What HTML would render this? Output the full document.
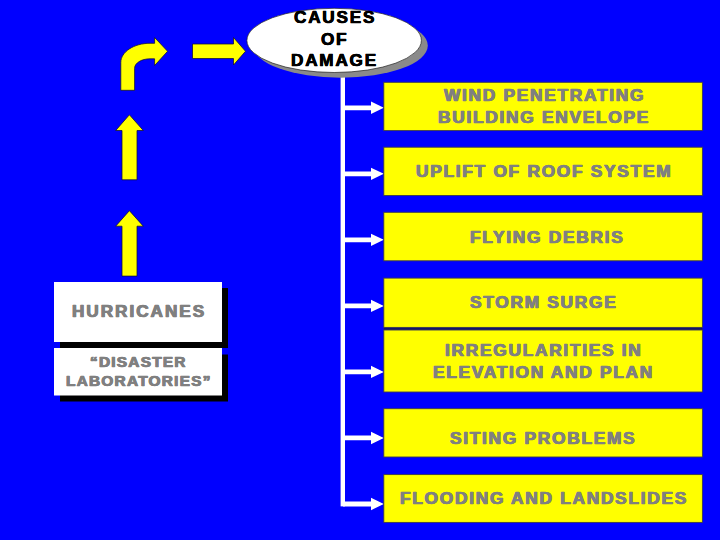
<!DOCTYPE html>
<html><head><meta charset="utf-8"><style>
html,body{margin:0;padding:0;width:720px;height:540px;overflow:hidden;background:#0000FF;}
.t{position:absolute;white-space:nowrap;font-family:"Liberation Sans",sans-serif;font-weight:bold;-webkit-text-stroke:0.5px currentColor;text-shadow:0.45px 0 0 currentColor,-0.45px 0 0 currentColor;}
</style></head><body>
<svg width="720" height="540" viewBox="0 0 720 540" style="position:absolute;left:0;top:0">
<path d="M192.5 44 H233.5 V37.5 L245.5 51.3 L233.5 65 V58.5 H192.5 Z" fill="#FFFF00" stroke="#101030" stroke-width="0.75"/>
<path d="M120.8 90.3 V62.5 C120.8 51.9 133.9 43.3 150 43.3 H154.6 V37.5 L167.6 51.3 L154.6 65.5 V58.8 H150 C141.5 58.8 134.6 63.05 134.6 68.3 V90.3 Z" fill="#FFFF00" stroke="#101030" stroke-width="0.75"/>
<path d="M129.4 114.8 L143.3 130.5 H137 V179.8 H122 V130.5 H115.7 Z" fill="#FFFF00" stroke="#101030" stroke-width="0.75"/>
<path d="M129.4 210.7 L143.3 226.2 H137 V276.1 H122 V226.2 H115.7 Z" fill="#FFFF00" stroke="#101030" stroke-width="0.75"/>
<rect x="340.6" y="60" width="4.4" height="446.38" fill="#FFFFFF"/>
<path d="M343 105.40 H371 V101.60 L383.8 107.80 L371 114.00 V110.20 H343 Z" fill="#FFFFFF"/>
<path d="M343 171.43 H371 V167.63 L383.8 173.83 L371 180.03 V176.23 H343 Z" fill="#FFFFFF"/>
<path d="M343 237.46 H371 V233.66 L383.8 239.86 L371 246.06 V242.26 H343 Z" fill="#FFFFFF"/>
<path d="M343 303.49 H371 V299.69 L383.8 305.89 L371 312.09 V308.29 H343 Z" fill="#FFFFFF"/>
<path d="M343 369.52 H371 V365.72 L383.8 371.92 L371 378.12 V374.32 H343 Z" fill="#FFFFFF"/>
<path d="M343 435.55 H371 V431.75 L383.8 437.95 L371 444.15 V440.35 H343 Z" fill="#FFFFFF"/>
<path d="M343 501.58 H371 V497.78 L383.8 503.98 L371 510.18 V506.38 H343 Z" fill="#FFFFFF"/>
<rect x="383.8" y="327.2" width="318.6" height="3" fill="#14146a"/>
<rect x="383.8" y="82.3" width="318.6" height="48.30" fill="#FFFF00" stroke="#3a3a50" stroke-width="0.9"/>
<rect x="383.8" y="147.2" width="318.6" height="48.30" fill="#FFFF00" stroke="#3a3a50" stroke-width="0.9"/>
<rect x="383.8" y="212.3" width="318.6" height="48.50" fill="#FFFF00" stroke="#3a3a50" stroke-width="0.9"/>
<rect x="383.8" y="278.1" width="318.6" height="49.30" fill="#FFFF00" stroke="#3a3a50" stroke-width="0.9"/>
<rect x="383.8" y="330.0" width="318.6" height="62.00" fill="#FFFF00" stroke="#3a3a50" stroke-width="0.9"/>
<rect x="383.8" y="408.7" width="318.6" height="48.30" fill="#FFFF00" stroke="#3a3a50" stroke-width="0.9"/>
<rect x="383.8" y="474.6" width="318.6" height="47.80" fill="#FFFF00" stroke="#3a3a50" stroke-width="0.9"/>
<ellipse cx="340.55" cy="45.6" rx="87.25" ry="32.1" fill="#8a8a8a"/>
<ellipse cx="334.15" cy="40.4" rx="87.25" ry="32.1" fill="#FFFFFF" stroke="#222" stroke-width="0.7"/>
<rect x="60" y="288" width="168" height="60" fill="#000"/>
<rect x="54" y="282" width="168" height="60" fill="#FFFFFF"/>
<rect x="60" y="354.5" width="168" height="47" fill="#000"/>
<rect x="54" y="348" width="168" height="47.5" fill="#FFFFFF"/>
</svg>
<div class="t" style="left:443.96px;top:86.17px;font-size:16.2px;line-height:19.44px;letter-spacing:1.6px;color:#808080;transform:scaleX(1.07);transform-origin:0 0;">WIND PENETRATING</div>
<div class="t" style="left:438.12px;top:107.67px;font-size:16.2px;line-height:19.44px;letter-spacing:1.6px;color:#808080;transform:scaleX(1.07);transform-origin:0 0;">BUILDING ENVELOPE</div>
<div class="t" style="left:415.64px;top:162.27px;font-size:16.2px;line-height:19.44px;letter-spacing:1.6px;color:#808080;transform:scaleX(1.07);transform-origin:0 0;">UPLIFT OF ROOF SYSTEM</div>
<div class="t" style="left:469.84px;top:227.87px;font-size:16.2px;line-height:19.44px;letter-spacing:1.6px;color:#808080;transform:scaleX(1.07);transform-origin:0 0;">FLYING DEBRIS</div>
<div class="t" style="left:470.13px;top:293.27px;font-size:16.2px;line-height:19.44px;letter-spacing:1.6px;color:#808080;transform:scaleX(1.07);transform-origin:0 0;">STORM SURGE</div>
<div class="t" style="left:444.86px;top:341.17px;font-size:16.2px;line-height:19.44px;letter-spacing:1.6px;color:#808080;transform:scaleX(1.07);transform-origin:0 0;">IRREGULARITIES IN</div>
<div class="t" style="left:433.18px;top:362.87px;font-size:16.2px;line-height:19.44px;letter-spacing:1.6px;color:#808080;transform:scaleX(1.07);transform-origin:0 0;">ELEVATION AND PLAN</div>
<div class="t" style="left:449.97px;top:429.27px;font-size:16.2px;line-height:19.44px;letter-spacing:1.6px;color:#808080;transform:scaleX(1.07);transform-origin:0 0;">SITING PROBLEMS</div>
<div class="t" style="left:399.84px;top:489.27px;font-size:16.2px;line-height:19.44px;letter-spacing:1.6px;color:#808080;transform:scaleX(1.07);transform-origin:0 0;">FLOODING AND LANDSLIDES</div>
<div class="t" style="left:293.65px;top:7.88px;font-size:16.5px;line-height:19.8px;letter-spacing:1.7px;color:#000;transform:scaleX(1.04);transform-origin:0 0;-webkit-text-stroke:0.5px #000;text-shadow:0.25px 0 0 #000,-0.25px 0 0 #000;">CAUSES</div>
<div class="t" style="left:321.39px;top:29.58px;font-size:16.5px;line-height:19.8px;letter-spacing:1.7px;color:#000;transform:scaleX(1.04);transform-origin:0 0;-webkit-text-stroke:0.5px #000;text-shadow:0.25px 0 0 #000,-0.25px 0 0 #000;">OF</div>
<div class="t" style="left:291.44px;top:51.48px;font-size:16.5px;line-height:19.8px;letter-spacing:1.7px;color:#000;transform:scaleX(1.04);transform-origin:0 0;-webkit-text-stroke:0.5px #000;text-shadow:0.25px 0 0 #000,-0.25px 0 0 #000;">DAMAGE</div>
<div class="t" style="left:72.17px;top:301.88px;font-size:16.5px;line-height:19.8px;letter-spacing:1.9px;color:#808080;transform:scaleX(1.04);transform-origin:0 0;">HURRICANES</div>
<div class="t" style="left:90.11px;top:353.99px;font-size:14.8px;line-height:17.76px;letter-spacing:1.2px;color:#808080;transform:scaleX(1.04);transform-origin:0 0;">“DISASTER</div>
<div class="t" style="left:66.22px;top:373.49px;font-size:14.8px;line-height:17.76px;letter-spacing:1.2px;color:#808080;transform:scaleX(1.04);transform-origin:0 0;">LABORATORIES”</div>
</body></html>
